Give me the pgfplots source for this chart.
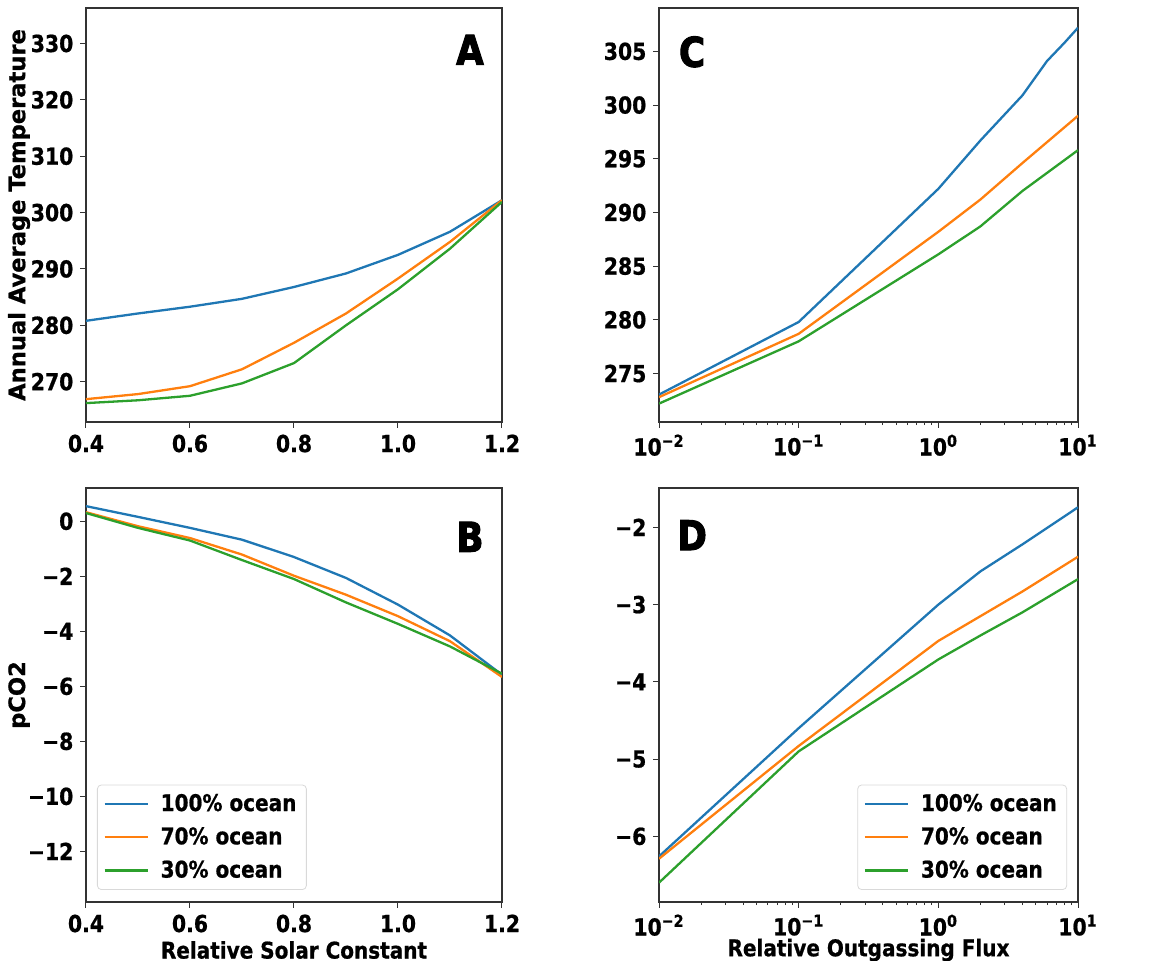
\documentclass[border=0pt]{standalone}
\usepackage{fontspec}
\setmainfont[FakeStretch=0.87,BoldFeatures={FakeBold=0.8}]{DejaVu Sans}
\newfontfamily\widefont[BoldFeatures={FakeBold=0.8}]{DejaVu Sans}
\newfontfamily\heavy[FakeStretch=0.87,BoldFeatures={FakeBold=2.5}]{DejaVu Sans}
\usepackage{pgfplots}
\pgfplotsset{compat=1.18}
\definecolor{c0}{HTML}{1F77B4}
\definecolor{c1}{HTML}{FF7F0E}
\definecolor{c2}{HTML}{2CA02C}
\pgfplotsset{
  myaxis/.style={
    scale only axis, anchor=south west,
    tick align=outside, tick pos=left,
    axis line style={black!80,line width=0.6pt},
    major tick length=2.8pt, minor tick length=1.6pt,
    every tick/.style={black!80,line width=0.5pt},
    tick label style={font=\bfseries\fontsize{11.7}{13}\selectfont},
    xlabel style={font=\bfseries\fontsize{11.5}{13}\selectfont,at={(axis description cs:0.5,0)},anchor=center,yshift=-24pt},
    ylabel style={font=\widefont\bfseries\fontsize{11.3}{13}\selectfont,at={(axis description cs:-0.161,0.5)},anchor=center},
    legend cell align=left,
    legend image code/.code={\draw[#1,line width=1.15pt] (0pt,0pt) -- (21.5pt,0pt); \path (25.5pt,0pt);},
    legend style={font=\bfseries\fontsize{11.5}{13}\selectfont, draw=black!15, rounded corners=2pt, fill=white, inner xsep=3pt, inner ysep=2.5pt, row sep=2.6pt},
    every axis plot/.append style={line width=1.15pt, no marks},
  }
}
\begin{document}
\begin{tikzpicture}
\useasboundingbox (0,0) rectangle (583pt,480.5pt);
% Panel A
\begin{axis}[myaxis, at={(43pt,269.5pt)}, width=208pt, height=207pt,
  xmin=0.4, xmax=1.2, ymin=262.85, ymax=336.3,
  xtick={0.4,0.6,0.8,1.0,1.2}, xticklabels={0.4,0.6,0.8,1.0,1.2},
  ytick={270,280,...,330}, yticklabels={270,280,290,300,310,320,330},
  ylabel={Annual Average Temperature}]
\addplot[c0] coordinates {(0.4,280.8)(0.5,282.1)(0.6,283.3)(0.7,284.7)(0.8,286.8)(0.9,289.2)(1.0,292.5)(1.1,296.6)(1.2,302.2)};
\addplot[c1] coordinates {(0.4,266.9)(0.5,267.8)(0.6,269.2)(0.7,272.2)(0.8,276.9)(0.9,282.1)(1.0,288.3)(1.1,294.8)(1.2,302.2)};
\addplot[c2] coordinates {(0.4,266.2)(0.5,266.7)(0.6,267.5)(0.7,269.7)(0.8,273.3)(0.9,280.0)(1.0,286.4)(1.1,293.6)(1.2,301.9)};
\node[font=\heavy\bfseries\fontsize{20.5}{22}\selectfont] at (rel axis cs:0.923,0.899) {A};
\end{axis}
% Panel C
\begin{axis}[myaxis, at={(329.5pt,269.5pt)}, width=209.5pt, height=207pt,
  xmode=log, xmin=0.01, xmax=10, ymin=270.49, ymax=309.04,
  xtick={0.01,0.1,1,10}, xticklabels={10\textsuperscript{−2},10\textsuperscript{−1},10\textsuperscript{0},10\textsuperscript{1}},
  ytick={275,280,...,305}, yticklabels={275,280,285,290,295,300,305}]
\addplot[c0] coordinates {(0.01,273.04)(0.1,279.8)(1,292.2)(2,296.7)(4,300.9)(6,304.1)(8,305.8)(10,307.2)};
\addplot[c1] coordinates {(0.01,272.8)(0.1,278.7)(1,288.2)(2,291.2)(4,294.6)(10,299.0)};
\addplot[c2] coordinates {(0.01,272.2)(0.1,278.0)(1,286.1)(2,288.7)(4,292.0)(10,295.8)};
\node[font=\heavy\bfseries\fontsize{20.5}{22}\selectfont] at (rel axis cs:0.079,0.894) {C};
\end{axis}
% Panel B
\begin{axis}[myaxis, at={(43pt,29.5pt)}, width=208pt, height=207pt,
  xmin=0.4, xmax=1.2, ymin=-13.84, ymax=1.21,
  xtick={0.4,0.6,0.8,1.0,1.2}, xticklabels={0.4,0.6,0.8,1.0,1.2},
  ytick={-12,-10,...,0}, yticklabels={−12,−10,−8,−6,−4,−2,0},
  xlabel={Relative Solar Constant}, ylabel={pCO2},
  legend style={at={(axis description cs:0.0264,0.029)},anchor=south west}]
\addplot[c0] coordinates {(0.4,0.55)(0.5,0.16)(0.6,-0.24)(0.7,-0.67)(0.8,-1.30)(0.9,-2.06)(1.0,-3.03)(1.1,-4.15)(1.2,-5.58)};
\addlegendentry{100\% ocean}
\addplot[c1] coordinates {(0.4,0.33)(0.5,-0.18)(0.6,-0.61)(0.7,-1.21)(0.8,-1.98)(0.9,-2.67)(1.0,-3.45)(1.1,-4.36)(1.2,-5.66)};
\addlegendentry{70\% ocean}
\addplot[c2] coordinates {(0.4,0.30)(0.5,-0.24)(0.6,-0.70)(0.7,-1.41)(0.8,-2.10)(0.9,-2.95)(1.0,-3.73)(1.1,-4.55)(1.2,-5.54)};
\addlegendentry{30\% ocean}
\node[font=\heavy\bfseries\fontsize{20.5}{22}\selectfont] at (rel axis cs:0.923,0.882) {B};
\end{axis}
% Panel D
\begin{axis}[myaxis, at={(329.5pt,29.5pt)}, width=209.5pt, height=207pt,
  xmode=log, xmin=0.01, xmax=10, ymin=-6.85, ymax=-1.49,
  xtick={0.01,0.1,1,10}, xticklabels={10\textsuperscript{−2},10\textsuperscript{−1},10\textsuperscript{0},10\textsuperscript{1}},
  ytick={-6,-5,-4,-3,-2}, yticklabels={−6,−5,−4,−3,−2},
  xlabel={Relative Outgassing Flux},
  legend style={at={(axis description cs:0.974,0.029)},anchor=south east}]
\addplot[c0] coordinates {(0.01,-6.26)(0.1,-4.60)(1,-3.00)(2,-2.57)(4,-2.22)(10,-1.74)};
\addlegendentry{100\% ocean}
\addplot[c1] coordinates {(0.01,-6.29)(0.1,-4.83)(1,-3.47)(2,-3.15)(4,-2.83)(10,-2.38)};
\addlegendentry{70\% ocean}
\addplot[c2] coordinates {(0.01,-6.60)(0.1,-4.90)(1,-3.71)(2,-3.40)(4,-3.10)(10,-2.67)};
\addlegendentry{30\% ocean}
\node[font=\heavy\bfseries\fontsize{20.5}{22}\selectfont] at (rel axis cs:0.079,0.886) {D};
\end{axis}
\end{tikzpicture}
\end{document}
